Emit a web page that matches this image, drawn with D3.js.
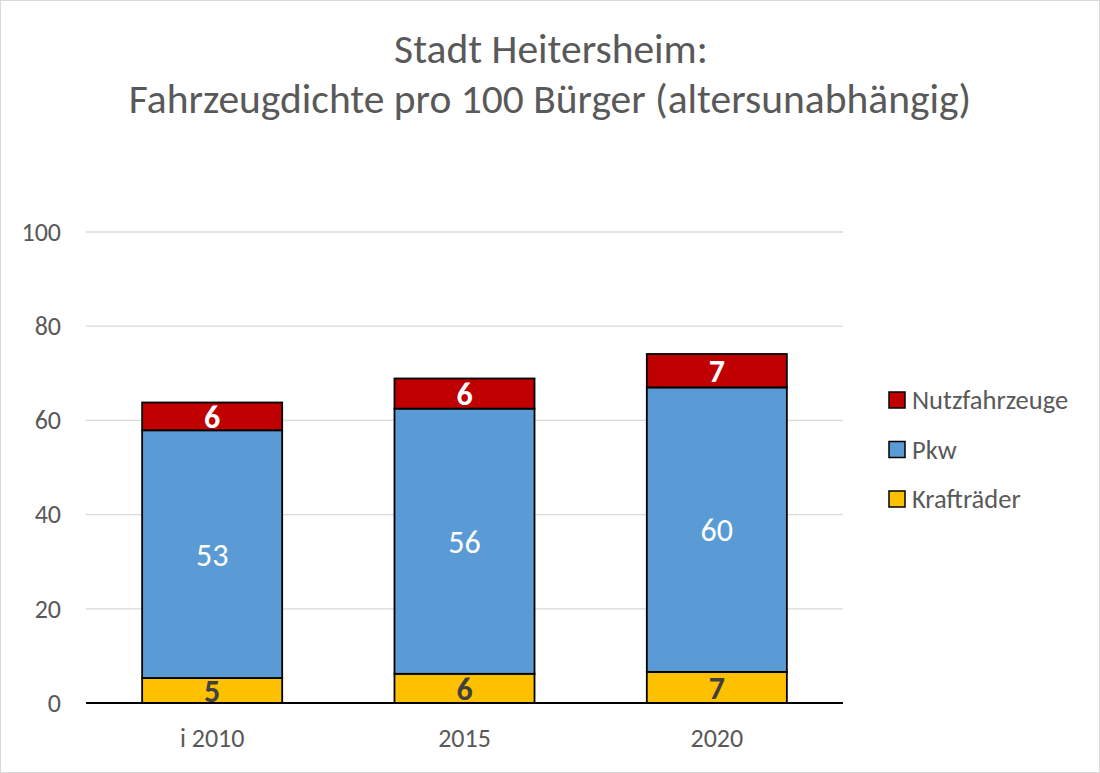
<!DOCTYPE html>
<html><head><meta charset="utf-8">
<script src="https://cdn.jsdelivr.net/npm/d3@7"></script>
<style>body{margin:0;background:#fff}svg{display:block}</style>
</head><body>
<svg id="chart" width="1100" height="773"></svg>
<script>
const categories = ["i 2010", "2015", "2020"];
const series = ["Krafträder", "Pkw", "Nutzfahrzeuge"];
const kraftraeder = [5.3, 6.2, 6.6];
const pkw = [52.6, 56.3, 60.4];
const nutzfahrzeuge = [5.9, 6.4, 7.1];
const kraftLabels = ["5", "6", "7"];
const pkwLabels = ["53", "56", "60"];
const nutzLabels = ["6", "6", "7"];
const yTicks = [0, 20, 40, 60, 80, 100];

(function () {
const colors = {"Krafträder": "#FFC000", "Pkw": "#5B9BD5", "Nutzfahrzeuge": "#C00000"};
const labelStyle = {
  "Krafträder": {fill: "#404040", weight: "bold"},
  "Pkw": {fill: "#ffffff", weight: "normal"},
  "Nutzfahrzeuge": {fill: "#ffffff", weight: "bold"}
};
const labels = {"Krafträder": kraftLabels, "Pkw": pkwLabels, "Nutzfahrzeuge": nutzLabels};

const table = categories.map((c, i) => ({cat: c, "Krafträder": kraftraeder[i], "Pkw": pkw[i], "Nutzfahrzeuge": nutzfahrzeuge[i]}));
const stacked = d3.stack().keys(series)(table);

const svg = d3.select("#chart");
const font = "Carlito, Lato, 'Open Sans', 'Liberation Sans', sans-serif";
svg.append("rect").attr("x", 0.5).attr("y", 0.5).attr("width", 1099).attr("height", 772)
  .attr("fill", "#fff").attr("stroke", "#d9d9d9").attr("stroke-width", 1);

const pl = 86, pr = 843, pt = 232, pb = 703;
const x = d3.scaleBand().domain(categories).range([pl, pr]).paddingInner(0.445).paddingOuter(0.2225);
const y = d3.scaleLinear().domain([0, 100]).range([pb, pt]);

// title
svg.append("text").attr("x", 551).attr("y", 63).attr("text-anchor", "middle")
  .attr("font-family", font).attr("font-size", 41.5).attr("fill", "#595959").text("Stadt Heitersheim:");
svg.append("text").attr("x", 550).attr("y", 113).attr("text-anchor", "middle")
  .attr("font-family", font).attr("font-size", 41.5).attr("fill", "#595959").text("Fahrzeugdichte pro 100 Bürger (altersunabhängig)");

// gridlines
svg.append("g").selectAll("line").data(yTicks.filter(t => t > 0)).join("line")
  .attr("x1", pl).attr("x2", pr).attr("y1", d => y(d)).attr("y2", d => y(d))
  .attr("stroke", "#d9d9d9").attr("stroke-width", 1.3);

// y axis labels
const yAxis = d3.axisLeft(y).tickValues(yTicks).tickSize(0).tickPadding(25);
const ya = svg.append("g").attr("transform", `translate(${pl},0)`).call(yAxis);
ya.select(".domain").remove();
ya.selectAll("text").attr("font-family", font).attr("font-size", 26).attr("fill", "#595959");

// bars
const groups = svg.append("g").selectAll("g").data(stacked).join("g").attr("fill", d => colors[d.key]);
groups.selectAll("rect").data(d => d).join("rect")
  .attr("x", d => x(d.data.cat)).attr("width", x.bandwidth())
  .attr("y", d => y(d[1])).attr("height", d => y(d[0]) - y(d[1]))
  .attr("stroke", "#000").attr("stroke-width", 1.8);

// data labels
stacked.forEach(s => {
  svg.append("g").selectAll("text").data(s).join("text")
    .attr("x", d => x(d.data.cat) + x.bandwidth() / 2)
    .attr("y", d => (y(d[0]) + y(d[1])) / 2)
    .attr("dy", "0.36em").attr("text-anchor", "middle")
    .attr("font-family", font).attr("font-size", 32)
    .attr("font-weight", labelStyle[s.key].weight).attr("fill", labelStyle[s.key].fill)
    .text((d, i) => labels[s.key][i]);
});

// x axis
const xAxis = d3.axisBottom(x).tickSize(0).tickPadding(26);
const xa = svg.append("g").attr("transform", `translate(0,${pb})`).call(xAxis);
xa.select(".domain").remove();
xa.selectAll("text").attr("font-family", font).attr("font-size", 26).attr("fill", "#595959");
svg.append("line").attr("x1", pl).attr("x2", pr).attr("y1", pb).attr("y2", pb)
  .attr("stroke", "#000").attr("stroke-width", 1.8);

// legend
const legendItems = ["Nutzfahrzeuge", "Pkw", "Krafträder"];
const lg = svg.append("g").selectAll("g").data(legendItems).join("g")
  .attr("transform", (d, i) => `translate(889,${400 + i * 49.5})`);
lg.append("rect").attr("x", 0).attr("y", -8).attr("width", 16).attr("height", 16)
  .attr("fill", d => colors[d]).attr("stroke", "#000").attr("stroke-width", 1.5);
lg.append("text").attr("x", 23).attr("y", 0).attr("dy", "0.35em")
  .attr("font-family", font).attr("font-size", 26.5).attr("fill", "#595959").text(d => d);
})();
</script>
</body></html>
